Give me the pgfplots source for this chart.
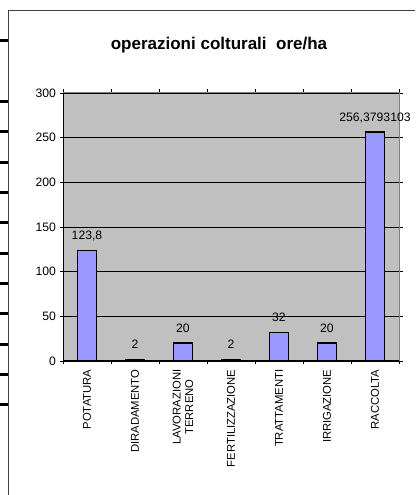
\documentclass[border=0pt]{standalone}
\usepackage{fontspec}
\setmainfont{Liberation Sans}
\usepackage{pgfplots}
\pgfplotsset{compat=1.18}
\definecolor{barfill}{HTML}{9999FF}
\definecolor{plotbg}{HTML}{C0C0C0}
\definecolor{plotborder}{HTML}{808080}
\definecolor{framec}{HTML}{404040}
\begin{document}
\begin{tikzpicture}
\useasboundingbox (0pt,0pt) rectangle (415pt,495pt);
\draw[line width=1.5pt, framec] (8.5pt,0pt) -- (8.5pt,484.5pt) -- (415pt,484.5pt);
\foreach \yy in {41,102,132,163,193,223,254,284,314,345,375,405}
  \draw[line width=3pt] (0pt,495pt-\yy pt) -- (8pt,495pt-\yy pt);
\node[font=\bfseries\fontsize{17}{19}\selectfont] at (219pt,450pt) {operazioni colturali\ \ ore/ha};
\begin{axis}[
  at={(63pt,134pt)}, anchor=south west, scale only axis,
  width=336pt, height=268pt,
  xmin=-0.5, xmax=6.5, ymin=0, ymax=300,
  ytick={0,50,...,300},
  xtick={-0.5,0.5,...,6.5}, xticklabels={{},{},{},{},{},{},{},{}},
  extra x ticks={0,1,2,3,4,5,6},
  extra x tick labels={POTATURA, DIRADAMENTO, {LAVORAZIONI\\TERRENO}, FERTILIZZAZIONE, TRATTAMENTI, IRRIGAZIONE, RACCOLTA},
  extra x tick style={major tick length=0pt, tick label style={rotate=90, anchor=east, align=center, font=\fontsize{11.3}{12.5}\selectfont}},
  xticklabel shift=5pt,
  tick align=outside, major tick length=3.5pt,
  tick style={black, line width=0.8pt},
  tick label style={font=\fontsize{12.2}{13.5}\selectfont},
  /pgf/number format/assume math mode=true,
  ymajorgrids, major grid style={black, line width=0.8pt},
  axis background/.style={fill=plotbg},
  axis line style={draw=none},
  clip=false,
  ybar, bar width=0.4,
  point meta=explicit symbolic,
  nodes near coords,
  nodes near coords style={font=\fontsize{12.2}{13.5}\selectfont, anchor=base, inner sep=0pt, yshift=10.5pt},
]
\addplot[draw=black, line width=1.4pt, fill=barfill] coordinates {
  (0,123.8) [123,8]
  (1,2) [2]
  (2,20) [20]
  (3,2) [2]
  (4,32) [32]
  (5,20) [20]
  (6,256.3793103) [256,3793103]
};
\draw[plotborder, line width=1pt] (rel axis cs:0,1) -- (rel axis cs:1,1) -- (rel axis cs:1,0);
\draw[black, line width=1pt] (rel axis cs:0,1) -- (rel axis cs:0,0) -- (rel axis cs:1,0);
\end{axis}
\end{tikzpicture}
\end{document}
